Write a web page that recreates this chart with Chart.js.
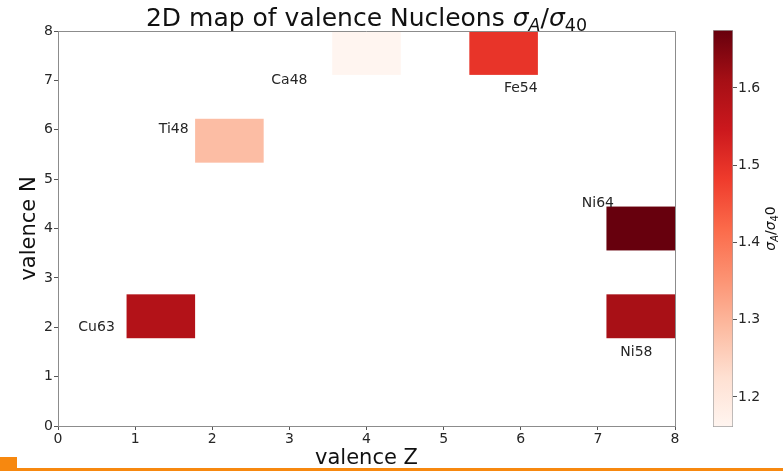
<!DOCTYPE html>
<html>
<head>
<meta charset="utf-8">
<script src="https://cdn.jsdelivr.net/npm/chart.js@4.4.1/dist/chart.umd.min.js"></script>
<style>
  body { margin: 0; background: #fff; }
  #wrap { position: relative; width: 783px; height: 471px; overflow: hidden; }
  #mainChart { position: absolute; left: 0; top: 0; }
  #cbarChart { position: absolute; left: 690px; top: 0; }
  .orangeLine { position: absolute; left: 0; top: 468px; width: 783px; height: 3px; background: #f7880f; }
  .orangeBox { position: absolute; left: 0; top: 457px; width: 17px; height: 14px; background: #f7880f; }
</style>
</head>
<body>
<div id="wrap">
  <canvas id="mainChart" width="783" height="471"></canvas>
  <canvas id="cbarChart" width="93" height="471"></canvas>
  <div class="orangeLine"></div>
  <div class="orangeBox"></div>
</div>
<script>
// nuclei and their position in the valence plane
const nuclei = ['Cu63', 'Ti48', 'Ca48', 'Fe54', 'Ni64', 'Ni58'];
const valenceZ = [1, 2, 4, 6, 8, 8];
const valenceN = [2, 6, 8, 8, 4, 2];
const sigmaRatio = [1.587, 1.286, 1.161, 1.495, 1.675, 1.605];   // sigma_A / sigma_40

// where the name text sits (data coords)
const labelZ = [0.5, 1.5, 3.0, 6.0, 7.0, 7.5];
const labelN = [2.0, 6.0, 7.0, 6.83, 4.5, 1.5];

const axisTicks = [0, 1, 2, 3, 4, 5, 6, 7, 8];
const cbarTicks = [1.2, 1.3, 1.4, 1.5, 1.6];
const nBins = 9;
const axisMin = 0, axisMax = 8;

// matplotlib "Reds"
const reds = ['#fff5f0', '#fee0d2', '#fcbba1', '#fc9272', '#fb6a4a', '#ef3b2c', '#cb181d', '#a50f15', '#67000d'];

const vmin = Math.min(...sigmaRatio);
const vmax = Math.max(...sigmaRatio);

function hexRgb(h) {
  return [parseInt(h.substr(1, 2), 16), parseInt(h.substr(3, 2), 16), parseInt(h.substr(5, 2), 16)];
}
function redsColor(v) {
  let t = (v - vmin) / (vmax - vmin);
  t = Math.max(0, Math.min(1, t)) * (reds.length - 1);
  const i = Math.min(Math.floor(t), reds.length - 2);
  const f = t - i;
  const a = hexRgb(reds[i]), b = hexRgb(reds[i + 1]);
  const c = a.map((x, k) => Math.round(x + (b[k] - x) * f));
  return 'rgb(' + c.join(',') + ')';
}

// histogram bin that holds a value
const binW = (axisMax - axisMin) / nBins;
function binOf(v) {
  return Math.min(nBins - 1, Math.floor((v - axisMin) / binW));
}

const FONT = 'DejaVu Sans';
const txtColor = '#262626';

// draw the 2D cells through the scales
const cellPlugin = {
  id: 'cells',
  beforeDatasetsDraw(chart) {
    const ctx = chart.ctx, xs = chart.scales.x, ys = chart.scales.y;
    ctx.save();
    for (let i = 0; i < nuclei.length; i++) {
      const bx = binOf(valenceZ[i]), by = binOf(valenceN[i]);
      const x0 = xs.getPixelForValue(axisMin + bx * binW);
      const x1 = xs.getPixelForValue(axisMin + (bx + 1) * binW);
      const y0 = ys.getPixelForValue(axisMin + (by + 1) * binW);
      const y1 = ys.getPixelForValue(axisMin + by * binW);
      ctx.fillStyle = redsColor(sigmaRatio[i]);
      ctx.fillRect(x0, y0, x1 - x0, y1 - y0);
    }
    ctx.restore();
  },
  afterDatasetsDraw(chart) {
    const ctx = chart.ctx, xs = chart.scales.x, ys = chart.scales.y;
    const a = chart.chartArea;
    ctx.save();
    // names
    ctx.font = '14px "' + FONT + '"';
    ctx.fillStyle = txtColor;
    ctx.textAlign = 'center';
    ctx.textBaseline = 'middle';
    for (let i = 0; i < nuclei.length; i++) {
      ctx.fillText(nuclei[i], xs.getPixelForValue(labelZ[i]), ys.getPixelForValue(labelN[i]));
    }
    // top and right spines
    ctx.strokeStyle = '#8c8c8c';
    ctx.lineWidth = 1;
    ctx.beginPath();
    ctx.moveTo(a.left, a.top + 0.5);
    ctx.lineTo(a.right + 0.5, a.top + 0.5);
    ctx.lineTo(a.right + 0.5, a.bottom);
    ctx.stroke();
    ctx.restore();
  }
};

// text with sub scripts, pieces = [text, italic, sub]
function drawMath(ctx, pieces, size, x, y, align) {
  const sub = size * 0.7;
  const fontOf = p => (p[1] ? 'oblique ' : '') + (p[2] ? sub : size) + 'px "' + FONT + '"';
  let total = 0;
  pieces.forEach(p => { ctx.font = fontOf(p); total += ctx.measureText(p[0]).width; });
  let cx = align === 'center' ? x - total / 2 : x;
  ctx.textAlign = 'left';
  ctx.textBaseline = 'alphabetic';
  pieces.forEach(p => {
    ctx.font = fontOf(p);
    ctx.fillText(p[0], cx, y + (p[2] ? size * 0.2 : 0));
    cx += ctx.measureText(p[0]).width;
  });
}

const titlePlugin = {
  id: 'mathTitle',
  afterDraw(chart) {
    const ctx = chart.ctx, a = chart.chartArea;
    ctx.save();
    ctx.fillStyle = '#111';
    drawMath(ctx, [['2D map of valence Nucleons ', false, false], ['σ', true, false], ['A', true, true],
      ['/', false, false], ['σ', true, false], ['40', false, true]], 25, (a.left + a.right) / 2, 26, 'center');
    ctx.restore();
  }
};

const tickFont = { family: FONT, size: 14 };

new Chart(document.getElementById('mainChart'), {
  type: 'scatter',
  data: {
    datasets: [{
      label: 'sigma ratio',
      data: nuclei.map((n, i) => ({ x: axisMin + (binOf(valenceZ[i]) + 0.5) * binW, y: axisMin + (binOf(valenceN[i]) + 0.5) * binW })),
      pointRadius: 0,
      pointHoverRadius: 0
    }]
  },
  options: {
    responsive: false,
    animation: false,
    layout: { padding: { top: 31, right: 108, left: 0, bottom: 0 } },
    plugins: { legend: { display: false }, tooltip: { enabled: false }, title: { display: false } },
    scales: {
      x: {
        type: 'linear', min: axisMin, max: axisMax,
        afterBuildTicks: s => { s.ticks = axisTicks.map(v => ({ value: v })); },
        afterFit: s => { s.height = 45; },
        ticks: { font: tickFont, color: txtColor, padding: 1, maxRotation: 0 },
        grid: { drawOnChartArea: false, tickLength: 4, color: '#555' },
        border: { display: true, color: '#8c8c8c' },
        title: { display: true, text: 'valence Z', font: { family: FONT, size: 21 }, color: '#111', padding: { top: 0, bottom: 0 } }
      },
      y: {
        type: 'linear', min: axisMin, max: axisMax,
        afterBuildTicks: s => { s.ticks = axisTicks.map(v => ({ value: v })); },
        afterFit: s => { s.width = 58; },
        ticks: { font: tickFont, color: txtColor, padding: 1 },
        grid: { drawOnChartArea: false, tickLength: 4, color: '#555' },
        border: { display: true, color: '#8c8c8c' },
        title: { display: true, text: 'valence N', font: { family: FONT, size: 21 }, color: '#111', padding: { top: 17, bottom: 0 } }
      }
    }
  },
  plugins: [cellPlugin, titlePlugin]
});

// colour bar
const cbarLabelPlugin = {
  id: 'cbarLabel',
  afterDraw(chart) {
    const ctx = chart.ctx, a = chart.chartArea;
    ctx.save();
    ctx.translate(85, (a.top + a.bottom) / 2);
    ctx.rotate(-Math.PI / 2);
    ctx.fillStyle = '#111';
    drawMath(ctx, [['σ', true, false], ['A', true, true], ['/', false, false], ['σ', true, false],
      ['4', false, true], ['0', false, false]], 14, 0, 0, 'center');
    ctx.restore();
  }
};

new Chart(document.getElementById('cbarChart'), {
  type: 'bar',
  data: {
    labels: [''],
    datasets: [{
      data: [[vmin, vmax]],
      backgroundColor: ctx => {
        const a = ctx.chart.chartArea;
        if (!a) return reds[4];
        const g = ctx.chart.ctx.createLinearGradient(0, a.bottom, 0, a.top);
        reds.forEach((c, i) => g.addColorStop(i / (reds.length - 1), c));
        return g;
      },
      borderColor: '#a0a0a0',
      borderWidth: 1,
      borderSkipped: false,
      barPercentage: 1,
      categoryPercentage: 1
    }]
  },
  options: {
    responsive: false,
    animation: false,
    layout: { padding: { top: 30, left: 23, right: 0, bottom: 44 } },
    plugins: { legend: { display: false }, tooltip: { enabled: false } },
    scales: {
      x: { display: false },
      y: {
        position: 'right', min: vmin, max: vmax,
        afterBuildTicks: s => { s.ticks = cbarTicks.map(v => ({ value: v })); },
        afterFit: s => { s.width = 50; },
        ticks: { font: tickFont, color: txtColor, padding: 1, callback: v => v.toFixed(1) },
        grid: { drawOnChartArea: false, tickLength: 4, color: '#555' },
        border: { display: false }
      }
    }
  },
  plugins: [cbarLabelPlugin]
});
</script>
</body>
</html>
